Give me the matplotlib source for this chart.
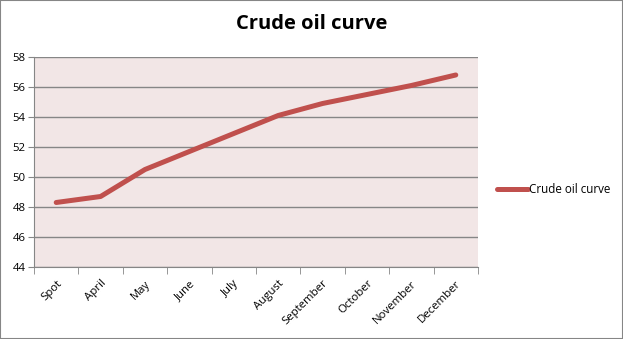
import matplotlib.pyplot as plt
import numpy as np

months = ["Spot", "April", "May", "June", "July", "August",
          "September", "October", "November", "December"]
prices = [48.3, 48.7, 50.5, 51.7, 52.9, 54.1, 54.9, 55.5, 56.1, 56.8]
y_ticks = [44, 46, 48, 50, 52, 54, 56, 58]

plt.rcParams['font.family'] = ['Open Sans', 'DejaVu Sans']

fig = plt.figure(figsize=(6.23, 3.39), dpi=100)
ax = fig.add_axes([0.0546, 0.2124, 0.7126, 0.6195])

x = np.arange(len(months))
ax.plot(x, prices, color="#C0504D", lw=3.6, solid_capstyle="round",
        label="Crude oil curve")

ax.set_facecolor("#F2E6E6")
ax.set_xlim(-0.5, len(months) - 0.5)
ax.set_ylim(44, 58)
ax.set_yticks(y_ticks)
ax.yaxis.grid(True, color="#868686", lw=1)
ax.set_axisbelow(True)

# category labels at centres, tick marks at the boundaries
ax.set_xticks(x)
ax.set_xticklabels(months, rotation=45, ha="right", rotation_mode="anchor",
                   fontsize=8.2)
ax.set_xticks(np.arange(-0.5, len(months)), minor=True)
ax.tick_params(axis="x", which="major", length=0, pad=8)
ax.tick_params(axis="x", which="minor", length=5, color="#868686")
ax.tick_params(axis="y", length=4, color="#868686", labelsize=8.2, pad=2)

for side in ["top", "right"]:
    ax.spines[side].set_visible(False)
for side in ["left", "bottom"]:
    ax.spines[side].set_color("#868686")

fig.suptitle("Crude oil curve", x=0.5, y=0.96, fontsize=14.5, fontweight="bold")

ax.legend(loc="center left", bbox_to_anchor=(1.02, 0.367), frameon=False,
          fontsize=8.4, handlelength=2.6, handletextpad=0.1)

fig.patches.append(plt.Rectangle((0, 0), 1, 1, transform=fig.transFigure,
                                 fill=False, edgecolor="#868686", lw=1.5))

fig.savefig("out.png", dpi=100)
